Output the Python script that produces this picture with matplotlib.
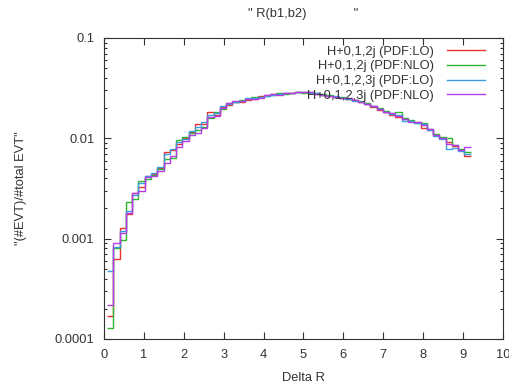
import numpy as np
import matplotlib
matplotlib.use('Agg')
import matplotlib.pyplot as plt
from matplotlib.ticker import FixedLocator, LogLocator, NullFormatter

plt.rcParams['font.family'] = ['Liberation Sans', 'DejaVu Sans']

# 58 bins of width pi/20, first bin centred at pi/20
n_bins = 58
bin_width = np.pi / 20

lo_012 = [1.7e-4, 6.3e-4, 1.29e-3, 1.76e-3, 2.85e-3, 3.3e-3, 4.2e-3, 4.4e-3, 5.1e-3, 7.3e-3,
          7.6e-3, 8.8e-3, 1.0e-2, 1.15e-2, 1.38e-2, 1.4e-2, 1.85e-2, 1.7e-2, 2.05e-2, 2.15e-2,
          2.32e-2, 2.28e-2, 2.42e-2, 2.48e-2, 2.62e-2, 2.7e-2, 2.75e-2, 2.75e-2, 2.8e-2, 2.85e-2,
          2.88e-2, 2.92e-2, 2.82e-2, 2.78e-2, 2.7e-2, 2.62e-2, 2.6e-2, 2.52e-2, 2.48e-2, 2.4e-2,
          2.3e-2, 2.18e-2, 2.05e-2, 1.9e-2, 1.82e-2, 1.7e-2, 1.62e-2, 1.55e-2, 1.48e-2, 1.45e-2,
          1.28e-2, 1.22e-2, 1.07e-2, 1.0e-2, 9.2e-3, 8.4e-3, 7.6e-3, 6.7e-3]
nlo_012 = [1.28e-4, 8.0e-4, 9.6e-4, 2.33e-3, 2.5e-3, 3.75e-3, 3.9e-3, 4.3e-3, 5.0e-3, 6.2e-3,
           6.3e-3, 9.6e-3, 1.03e-2, 1.12e-2, 1.2e-2, 1.3e-2, 1.6e-2, 1.85e-2, 1.95e-2, 2.25e-2,
           2.28e-2, 2.42e-2, 2.47e-2, 2.6e-2, 2.58e-2, 2.65e-2, 2.72e-2, 2.8e-2, 2.78e-2, 2.82e-2,
           2.9e-2, 2.86e-2, 2.88e-2, 2.82e-2, 2.75e-2, 2.68e-2, 2.58e-2, 2.56e-2, 2.46e-2, 2.42e-2,
           2.33e-2, 2.24e-2, 2.12e-2, 2.0e-2, 1.88e-2, 1.78e-2, 1.82e-2, 1.58e-2, 1.52e-2, 1.42e-2,
           1.42e-2, 1.24e-2, 1.1e-2, 1.02e-2, 1.0e-2, 8.6e-3, 7.9e-3, 7.3e-3]
lo_0123 = [4.75e-4, 8.3e-4, 1.2e-3, 1.88e-3, 2.7e-3, 3.6e-3, 4.2e-3, 4.5e-3, 5.2e-3, 7.0e-3,
           7.9e-3, 9.2e-3, 9.8e-3, 1.17e-2, 1.3e-2, 1.45e-2, 1.72e-2, 1.78e-2, 2.08e-2, 2.2e-2,
           2.3e-2, 2.35e-2, 2.5e-2, 2.52e-2, 2.6e-2, 2.66e-2, 2.68e-2, 2.75e-2, 2.82e-2, 2.8e-2,
           2.92e-2, 2.9e-2, 2.85e-2, 2.8e-2, 2.72e-2, 2.65e-2, 2.62e-2, 2.55e-2, 2.47e-2, 2.38e-2,
           2.3e-2, 2.22e-2, 2.1e-2, 1.95e-2, 1.85e-2, 1.74e-2, 1.72e-2, 1.5e-2, 1.5e-2, 1.43e-2,
           1.38e-2, 1.2e-2, 1.05e-2, 9.8e-3, 7.8e-3, 8.0e-3, 7.5e-3, 6.9e-3]
nlo_0123 = [2.2e-4, 9.0e-4, 1.15e-3, 1.8e-3, 2.85e-3, 3.0e-3, 4.1e-3, 4.2e-3, 4.7e-3, 5.7e-3,
            6.6e-3, 8.2e-3, 9.5e-3, 1.08e-2, 1.12e-2, 1.28e-2, 1.62e-2, 1.68e-2, 2.02e-2, 2.23e-2,
            2.35e-2, 2.38e-2, 2.44e-2, 2.47e-2, 2.55e-2, 2.68e-2, 2.74e-2, 2.72e-2, 2.8e-2, 2.83e-2,
            2.87e-2, 2.88e-2, 2.87e-2, 2.76e-2, 2.73e-2, 2.66e-2, 2.57e-2, 2.55e-2, 2.5e-2, 2.42e-2,
            2.28e-2, 2.2e-2, 2.08e-2, 1.96e-2, 1.84e-2, 1.77e-2, 1.68e-2, 1.56e-2, 1.47e-2, 1.46e-2,
            1.36e-2, 1.23e-2, 1.08e-2, 1.0e-2, 8.8e-3, 8.5e-3, 7.7e-3, 8.2e-3]

labels = ['H+0,1,2j (PDF:LO)', 'H+0,1,2j (PDF:NLO)',
          'H+0,1,2,3j (PDF:LO)', 'H+0,1,2,3j (PDF:NLO)']
colors = ['#e8302c', '#2fb52f', '#3a9ee0', '#b43ee6']
fs = 9.3


def main():
    edges = (np.arange(n_bins + 1) + 0.5) * bin_width

    fig = plt.figure(figsize=(5.09, 3.88), dpi=100)
    ax = fig.add_axes([0.2043, 0.1263, 0.7839, 0.7758])

    for vals, lab, col in zip([lo_012, nlo_012, lo_0123, nlo_0123], labels, colors):
        ax.stairs(vals, edges, baseline=None, color=col, lw=1.0, label=lab)

    ax.set_yscale('log')
    ax.set_xlim(0, 10)
    ax.set_ylim(1e-4, 0.1)

    ax.xaxis.set_major_locator(FixedLocator(range(0, 11)))
    ax.yaxis.set_major_locator(FixedLocator([1e-4, 1e-3, 1e-2, 1e-1]))
    ax.yaxis.set_minor_locator(LogLocator(base=10, subs=np.arange(2, 10)))
    ax.yaxis.set_minor_formatter(NullFormatter())
    ax.set_yticklabels(['0.0001', '0.001', '0.01', '0.1'])

    ax.tick_params(which='both', direction='in', top=True, right=True,
                   labelsize=fs, labelcolor='#333333', color='#333333', width=0.8)
    ax.tick_params(which='major', length=5, pad=7)
    ax.tick_params(which='minor', length=2.5)
    for s in ax.spines.values():
        s.set_color('#333333')
        s.set_linewidth(0.8)

    ax.set_xlabel('Delta R', fontsize=fs, color='#333333', labelpad=8)
    ax.set_ylabel('"(#EVT)/#total EVT"', fontsize=fs, color='#333333', labelpad=20)
    ax.set_title('" R(b1,b2)             "', fontsize=fs, color='#333333', pad=15)

    leg = ax.legend(loc='upper right', frameon=False, markerfirst=False, fontsize=fs,
                    handlelength=3.0, handletextpad=1.0, labelspacing=0.2,
                    borderaxespad=0.2, bbox_to_anchor=(0.975, 1.0))
    for t in leg.get_texts():
        t.set_color('#333333')

    fig.savefig('out.png', dpi=100)


if __name__ == '__main__':
    main()
